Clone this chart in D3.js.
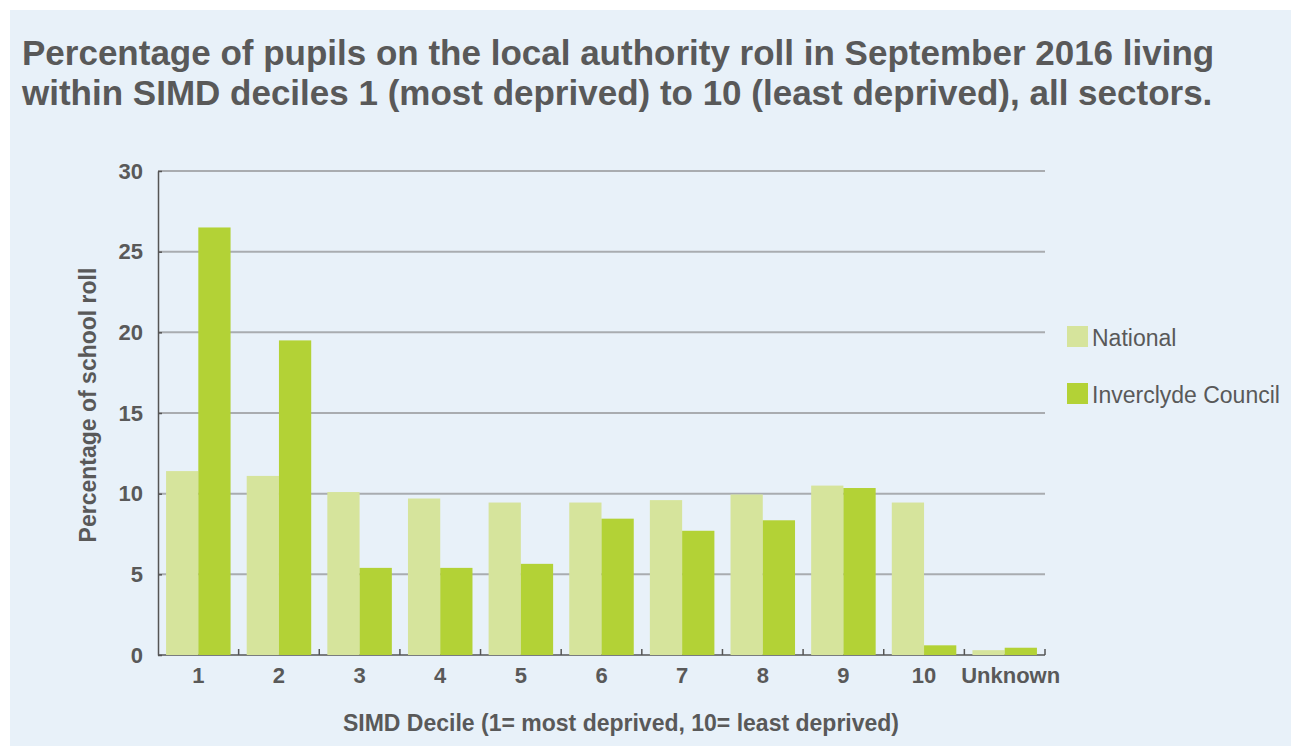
<!DOCTYPE html>
<html><head><meta charset="utf-8">
<script src="https://cdn.jsdelivr.net/npm/d3@7"></script>
<style>
html,body{margin:0;padding:0;background:#fff;}
svg{display:block;}
text{font-family:"Liberation Sans",Arial,sans-serif;}
</style></head>
<body>
<svg id="c" width="1293" height="746"></svg>
<script>
const categories = ["1","2","3","4","5","6","7","8","9","10","Unknown"];
const seriesNames = ["National","Inverclyde Council"];
const national = [11.4, 11.1, 10.1, 9.7, 9.45, 9.45, 9.6, 9.95, 10.5, 9.45, 0.3];
const inverclyde = [26.5, 19.5, 5.4, 5.4, 5.65, 8.45, 7.7, 8.35, 10.35, 0.6, 0.45];
const yTicks = [0,5,10,15,20,25,30];
const colors = ["#d6e49c","#b3d236"];
const titleLines = ["Percentage of pupils on the local authority roll in September 2016 living",
                    "within SIMD deciles 1 (most deprived) to 10 (least deprived), all sectors."];
const yLabel = "Percentage of school roll";
const xLabel = "SIMD Decile (1= most deprived, 10= least deprived)";

const svg = d3.select("#c");
svg.append("rect").attr("x",10).attr("y",10).attr("width",1281).attr("height",736).attr("fill","#e8f1f9");

const title = svg.append("text").attr("fill","#595959").attr("font-weight","bold").attr("font-size",35);
titleLines.forEach((t,i)=>title.append("tspan").attr("x",22).attr("y",65+i*40).text(t));

const pL=158, pR=1045, pT=171, pB=655;
const x = d3.scaleBand().domain(categories).range([pL,pR]).paddingInner(0.2).paddingOuter(0.1);
const x1 = d3.scaleBand().domain(seriesNames).range([0,x.bandwidth()]);
const y = d3.scaleLinear().domain([0,30]).range([pB,pT]);

// gridlines
svg.append("g").selectAll("line").data(yTicks.filter(d=>d>0)).join("line")
  .attr("x1",pL).attr("x2",pR).attr("y1",d=>y(d)).attr("y2",d=>y(d))
  .attr("stroke","#a9acb0").attr("stroke-width",2);

// x axis baseline + ticks
const edges = d3.range(categories.length+1).map(i=>pL + i*(pR-pL)/categories.length);
svg.append("line").attr("x1",pL).attr("x2",pR).attr("y1",pB).attr("y2",pB)
  .attr("stroke","#555").attr("stroke-width",1.5);
svg.append("g").selectAll("line").data(edges.slice(1)).join("line")
  .attr("x1",d=>d).attr("x2",d=>d).attr("y1",pB).attr("y2",pB-6)
  .attr("stroke","#555").attr("stroke-width",1.5);

// bars
const rows = categories.map((c,i)=>({c, vals:[national[i],inverclyde[i]]}));
const g = svg.append("g").selectAll("g").data(rows).join("g").attr("transform",d=>`translate(${x(d.c)},0)`);
g.selectAll("rect").data(d=>d.vals.map((v,j)=>({s:seriesNames[j],v,j}))).join("rect")
  .attr("x",d=>x1(d.s)).attr("width",x1.bandwidth())
  .attr("y",d=>y(d.v)).attr("height",d=>pB-y(d.v))
  .attr("fill",d=>colors[d.j]);

// y axis
const yAxis = svg.append("g").attr("transform",`translate(${pL},0)`)
  .call(d3.axisLeft(y).tickValues(yTicks).tickSizeInner(-4).tickSizeOuter(0).tickPadding(15));
yAxis.select(".domain").attr("stroke","#555").attr("stroke-width",1.5);
yAxis.selectAll(".tick line").attr("stroke","#555").attr("stroke-width",1.5);
yAxis.selectAll("text").attr("font-size",22).attr("font-weight","bold").attr("fill","#595959")
  .attr("font-family","Liberation Sans, Arial, sans-serif");

// x tick labels
const xAxis = svg.append("g").attr("transform",`translate(0,${pB})`)
  .call(d3.axisBottom(x).tickSize(0).tickPadding(12));
xAxis.select(".domain").remove();
xAxis.selectAll("text").attr("font-size",22).attr("font-weight","bold").attr("fill","#595959")
  .attr("font-family","Liberation Sans, Arial, sans-serif")
  .attr("dx",d=>d==="Unknown"?6:0);

// axis titles
svg.append("text").attr("transform",`translate(96,405) rotate(-90)`)
  .attr("text-anchor","middle").attr("font-size",23).attr("font-weight","bold").attr("fill","#595959").text(yLabel);
svg.append("text").attr("x",621).attr("y",731).attr("text-anchor","middle")
  .attr("font-size",23).attr("font-weight","bold").attr("fill","#595959").text(xLabel);

// legend
const leg = svg.append("g").selectAll("g").data(seriesNames).join("g")
  .attr("transform",(d,i)=>`translate(1067,${326+i*57})`);
leg.append("rect").attr("width",21).attr("height",21).attr("fill",(d,i)=>colors[i]);
leg.append("text").attr("x",25).attr("y",20).attr("font-size",23).attr("fill","#595959").text(d=>d);
</script>
</body></html>
